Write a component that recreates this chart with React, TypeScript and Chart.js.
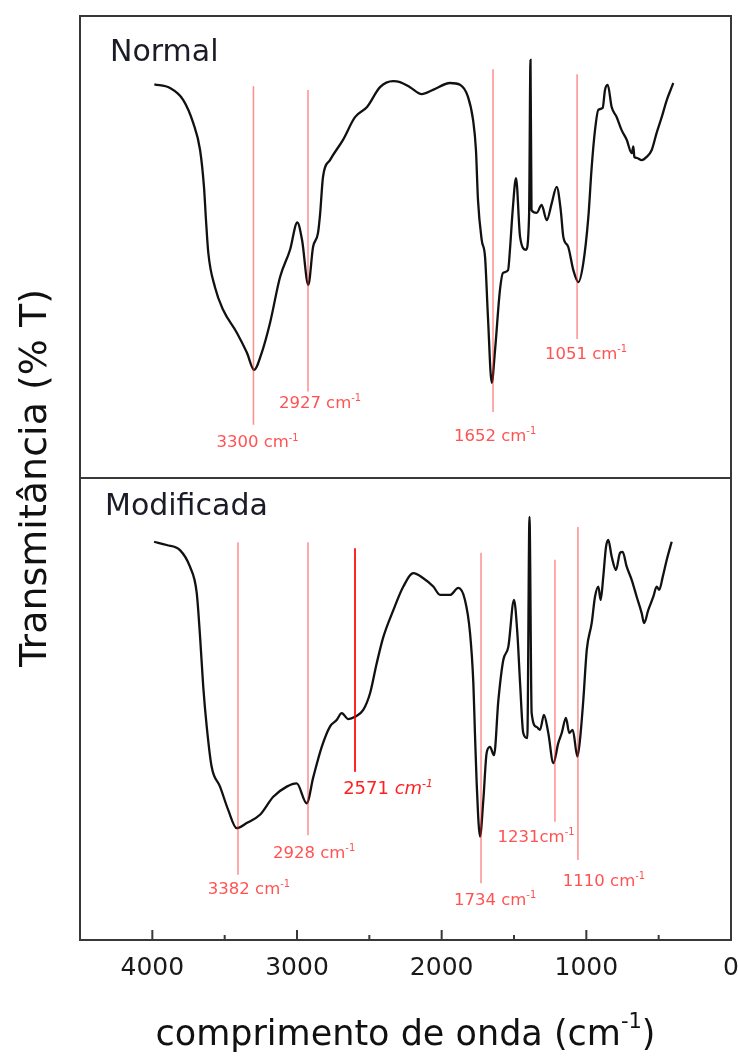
import { useEffect, useRef } from 'react';
import { Chart, registerables } from 'chart.js';

Chart.register(...registerables);

const FONT = '"DejaVu Sans", "Liberation Sans", sans-serif';

// ---- Data: FTIR spectra (wavenumber in cm^-1, transmittance in relative %) ----
const normalWavenumber = [3986, 3878, 3786, 3717, 3670, 3643, 3629, 3613, 3567, 3511, 3415, 3346, 3297, 3244, 3187, 3117, 3048, 2998, 2965, 2922, 2889, 2855, 2841, 2820, 2772, 2682, 2599, 2516, 2426, 2336, 2288, 2219, 2138, 2060, 1942, 1873, 1818, 1783, 1763, 1749, 1723, 1700, 1680, 1654, 1631, 1597, 1576, 1541, 1528, 1509, 1486, 1458, 1417, 1396, 1386, 1379, 1343, 1309, 1274, 1239, 1205, 1177, 1159, 1125, 1090, 1055, 1021, 986, 963, 940, 917, 887, 871, 852, 825, 790, 756, 721, 686, 675, 668, 652, 617, 583, 548, 514, 479, 444, 410, 399];
const normalTransmittance = [85.2, 84.4, 81.8, 76.8, 71.0, 63.0, 55.8, 48.7, 41.3, 36.4, 31.4, 27.1, 23.4, 27.1, 33.5, 43.5, 49.4, 55.3, 51.5, 41.8, 50.0, 53.0, 56.9, 65.2, 68.8, 73.2, 78.1, 80.3, 84.6, 85.9, 85.7, 84.6, 83.1, 84.0, 85.5, 85.1, 82.5, 77.5, 71.0, 60.2, 51.5, 47.8, 34.8, 20.6, 27.7, 40.7, 44.4, 45.0, 49.4, 58.0, 64.9, 52.2, 49.4, 56.5, 90.5, 58.0, 57.4, 59.1, 55.8, 59.5, 63.0, 58.0, 52.2, 50.0, 45.0, 42.4, 46.5, 56.5, 67.3, 75.3, 79.7, 80.1, 84.0, 85.1, 80.3, 78.1, 75.3, 73.2, 70.3, 71.8, 69.5, 69.3, 68.8, 69.5, 71.0, 74.7, 78.1, 81.8, 84.6, 85.5];

const modifiedWavenumber = [3988, 3901, 3809, 3740, 3693, 3670, 3648, 3624, 3590, 3532, 3475, 3417, 3348, 3256, 3164, 3071, 3002, 2933, 2887, 2829, 2772, 2726, 2691, 2645, 2599, 2542, 2495, 2449, 2403, 2334, 2265, 2196, 2127, 2058, 2011, 1942, 1885, 1839, 1804, 1781, 1770, 1758, 1735, 1712, 1689, 1666, 1638, 1608, 1574, 1539, 1500, 1477, 1458, 1436, 1408, 1393, 1378, 1343, 1320, 1293, 1263, 1228, 1194, 1170, 1141, 1118, 1094, 1062, 1044, 1021, 997, 963, 940, 917, 901, 883, 864, 848, 825, 795, 767, 749, 721, 686, 652, 617, 601, 572, 537, 514, 496, 472, 444, 410];
const modifiedTransmittance = [86.2, 85.5, 84.4, 80.8, 75.1, 65.6, 54.8, 46.2, 37.5, 33.2, 28.1, 24.2, 25.3, 27.1, 31.0, 33.2, 33.9, 29.6, 35.3, 41.8, 46.2, 47.6, 49.1, 47.8, 48.3, 49.8, 53.4, 59.9, 65.6, 71.4, 76.5, 79.4, 78.3, 76.5, 74.7, 74.7, 76.2, 73.6, 66.5, 55.6, 44.8, 34.0, 22.4, 30.3, 40.5, 41.8, 40.0, 51.9, 60.6, 63.5, 73.6, 66.5, 55.6, 44.8, 43.7, 91.6, 49.1, 46.1, 45.5, 48.7, 44.8, 38.3, 42.6, 44.8, 48.1, 44.8, 45.5, 39.7, 43.3, 51.9, 62.8, 68.6, 74.3, 76.5, 73.6, 78.6, 85.1, 86.6, 83.0, 80.1, 83.8, 84.0, 80.8, 77.9, 74.3, 70.7, 68.6, 71.4, 74.3, 76.5, 75.8, 78.6, 82.3, 86.2];

// x axis ticks (every 500, labelled every 1000)
const xTickValues = [0, 500, 1000, 1500, 2000, 2500, 3000, 3500, 4000];
const xLabelledTicks = [0, 1000, 2000, 3000, 4000];

// Peak annotations (Normal panel)
const normalPeakLabels = ['3300 cm', '2927 cm', '1652 cm', '1051 cm'];
const normalPeakLineWn = [3301, 2924, 1645, 1064];
const normalPeakLineTop = [84.8, 84.0, 88.5, 87.4];
const normalPeakLineBottom = [11.5, 18.7, 14.3, 30.1];
const normalPeakLabelWn = [3273, 2841, 1631, 1002];
const normalPeakLabelT = [7.9, 16.5, 9.3, 27.1];

// Peak annotations (Modificada panel)
const modifiedPeakLabels = ['3382 cm', '2928 cm', '2571 cm', '1734 cm', '1231cm', '1110 cm'];
const modifiedPeakLineWn = [3408, 2924, 2599, 1728, 1217, 1058];
const modifiedPeakLineTop = [86.1, 86.1, 84.8, 83.8, 82.3, 89.4];
const modifiedPeakLineBottom = [14.1, 22.7, 36.4, 12.3, 25.6, 17.3];
const modifiedPeakLabelWn = [3332, 2882, 2371, 1631, 1348, 878];
const modifiedPeakLabelT = [11.3, 19.1, 32.9, 8.9, 22.5, 13.0];
const emphasizedPeak = '2571 cm';

const panelNames = ['Normal', 'Modificada'];
const xAxisTitle = 'comprimento de onda (cm';
const yAxisTitle = 'Transmitância (% T)';

function drawUnitLabel(ctx: CanvasRenderingContext2D, text: string, cx: number, cy: number, size: number, color: string, italicUnit: boolean) {
  const main = text.replace(/cm$/, '');
  const parts = [
    { t: main, size, italic: false, rise: 0 },
    { t: 'cm', size, italic: italicUnit, rise: 0 },
    { t: '-1', size: size * 0.6, italic: italicUnit, rise: size * 0.42 },
  ];
  let total = 0;
  const widths: number[] = [];
  for (const p of parts) {
    ctx.font = `${p.italic ? 'italic ' : ''}${p.size}px ${FONT}`;
    const w = ctx.measureText(p.t).width;
    widths.push(w);
    total += w;
  }
  let x = cx - total / 2;
  const baseline = cy + size * 0.36;
  ctx.fillStyle = color;
  ctx.textAlign = 'left';
  ctx.textBaseline = 'alphabetic';
  parts.forEach((p, i) => {
    ctx.font = `${p.italic ? 'italic ' : ''}${p.size}px ${FONT}`;
    ctx.fillText(p.t, x, baseline - p.rise);
    x += widths[i];
  });
}

function drawPeaks(ctx: CanvasRenderingContext2D, xs: any, ys: any, labels: string[], lineWn: number[], top: number[], bottom: number[], labelWn: number[], labelT: number[]) {
  labels.forEach((lab, i) => {
    const strong = lab === emphasizedPeak;
    const px = xs.getPixelForValue(lineWn[i]);
    ctx.save();
    ctx.strokeStyle = strong ? 'rgba(255,0,0,0.85)' : 'rgba(255,30,30,0.5)';
    ctx.lineWidth = strong ? 2 : 1.5;
    ctx.beginPath();
    ctx.moveTo(px, ys.getPixelForValue(top[i]));
    ctx.lineTo(px, ys.getPixelForValue(bottom[i]));
    ctx.stroke();
    drawUnitLabel(ctx, lab, xs.getPixelForValue(labelWn[i]), ys.getPixelForValue(labelT[i]), strong ? 18 : 16.5, strong ? '#ff2020' : '#ff5252', strong);
    ctx.restore();
  });
}

const spectraDecor = {
  id: 'spectraDecor',
  afterDraw(chart: any) {
    const ctx: CanvasRenderingContext2D = chart.ctx;
    const { left, right, top, bottom } = chart.chartArea;
    const xs = chart.scales.x;
    const yTop = chart.scales.yTop;
    const yBot = chart.scales.yBot;
    const dividerY = yTop.top < yBot.top ? yTop.bottom : yBot.bottom;

    ctx.save();
    // peak markers
    drawPeaks(ctx, xs, yTop, normalPeakLabels, normalPeakLineWn, normalPeakLineTop, normalPeakLineBottom, normalPeakLabelWn, normalPeakLabelT);
    drawPeaks(ctx, xs, yBot, modifiedPeakLabels, modifiedPeakLineWn, modifiedPeakLineTop, modifiedPeakLineBottom, modifiedPeakLabelWn, modifiedPeakLabelT);

    // frame + divider
    ctx.strokeStyle = '#383838';
    ctx.lineWidth = 2;
    ctx.strokeRect(left, top, right - left, bottom - top);
    ctx.beginPath();
    ctx.moveTo(left, dividerY);
    ctx.lineTo(right, dividerY);
    ctx.stroke();

    // inward tick marks on the bottom axis
    ctx.lineWidth = 2;
    for (const v of xTickValues) {
      const px = xs.getPixelForValue(v);
      const len = xLabelledTicks.includes(v) ? 10 : 5;
      ctx.beginPath();
      ctx.moveTo(px, bottom);
      ctx.lineTo(px, bottom - len);
      ctx.stroke();
    }

    // panel names
    ctx.fillStyle = '#1c1c28';
    ctx.font = `30px ${FONT}`;
    ctx.textAlign = 'left';
    ctx.textBaseline = 'alphabetic';
    const upperTop = Math.min(yTop.top, yBot.top);
    ctx.fillText(panelNames[0], left + 30, upperTop + 45);
    ctx.fillText(panelNames[1], left + 25, dividerY + 37);

    // x axis title with superscript
    ctx.fillStyle = '#111';
    const s = 35;
    ctx.font = `${s}px ${FONT}`;
    const w1 = ctx.measureText(xAxisTitle).width;
    ctx.font = `${s * 0.6}px ${FONT}`;
    const w2 = ctx.measureText('-1').width;
    ctx.font = `${s}px ${FONT}`;
    const w3 = ctx.measureText(')').width;
    const cx = (left + right) / 2;
    let tx = cx - (w1 + w2 + w3) / 2;
    const tb = 1045;
    ctx.fillText(xAxisTitle, tx, tb);
    tx += w1;
    ctx.font = `${s * 0.6}px ${FONT}`;
    ctx.fillText('-1', tx, tb - s * 0.5);
    tx += w2;
    ctx.font = `${s}px ${FONT}`;
    ctx.fillText(')', tx, tb);

    // y axis title
    ctx.save();
    ctx.translate(46, (top + bottom) / 2);
    ctx.rotate(-Math.PI / 2);
    ctx.font = `38px ${FONT}`;
    ctx.textAlign = 'center';
    ctx.fillText(yAxisTitle, 0, 0);
    ctx.restore();

    ctx.restore();
  },
};

export default function App() {
  const ref = useRef<HTMLCanvasElement>(null);
  useEffect(() => {
    const canvas = ref.current;
    if (!canvas) return;
    const hiddenY = () => ({
      type: 'linear' as const,
      position: 'left' as const,
      stack: 'panels',
      stackWeight: 1,
      min: 0,
      max: 100,
      display: true,
      ticks: { display: false },
      grid: { display: false, drawTicks: false },
      border: { display: false },
      afterFit: (sc: any) => { sc.width = 80; },
    });
    const chart = new Chart(canvas, {
      type: 'line',
      data: {
        datasets: [
          {
            label: panelNames[0],
            data: normalWavenumber.map((x, i) => ({ x, y: normalTransmittance[i] })),
            yAxisID: 'yTop',
            borderColor: '#111111',
            borderWidth: 2.3,
            pointRadius: 0,
            cubicInterpolationMode: 'monotone',
            fill: false,
          },
          {
            label: panelNames[1],
            data: modifiedWavenumber.map((x, i) => ({ x, y: modifiedTransmittance[i] })),
            yAxisID: 'yBot',
            borderColor: '#111111',
            borderWidth: 2.3,
            pointRadius: 0,
            cubicInterpolationMode: 'monotone',
            fill: false,
          },
        ],
      },
      options: {
        animation: false,
        responsive: false,
        maintainAspectRatio: false,
        layout: { padding: { top: 16, right: 7, left: 0, bottom: 0 } },
        plugins: { legend: { display: false }, tooltip: { enabled: false } },
        scales: {
          x: {
            type: 'linear',
            position: 'bottom',
            reverse: true,
            min: 0,
            max: 4500,
            afterBuildTicks: (sc: any) => { sc.ticks = xTickValues.map((v) => ({ value: v })); },
            ticks: {
              autoSkip: false,
              maxRotation: 0,
              padding: 13,
              color: '#1a1a1a',
              font: { family: FONT, size: 25 },
              callback: (v: any) => (xLabelledTicks.includes(Number(v)) ? String(v) : ''),
            },
            grid: { display: false, drawTicks: false },
            border: { display: false },
            afterFit: (sc: any) => { sc.height = 116; },
          },
          yBot: hiddenY(),
          yTop: hiddenY(),
        },
      },
      plugins: [spectraDecor],
    });
    return () => chart.destroy();
  }, []);
  return (
    <div style={{ position: 'absolute', left: 0, top: 0, width: 738, height: 1056, background: '#ffffff' }}>
      <canvas ref={ref} width={738} height={1056} style={{ display: 'block', width: 738, height: 1056 }} />
    </div>
  );
}
